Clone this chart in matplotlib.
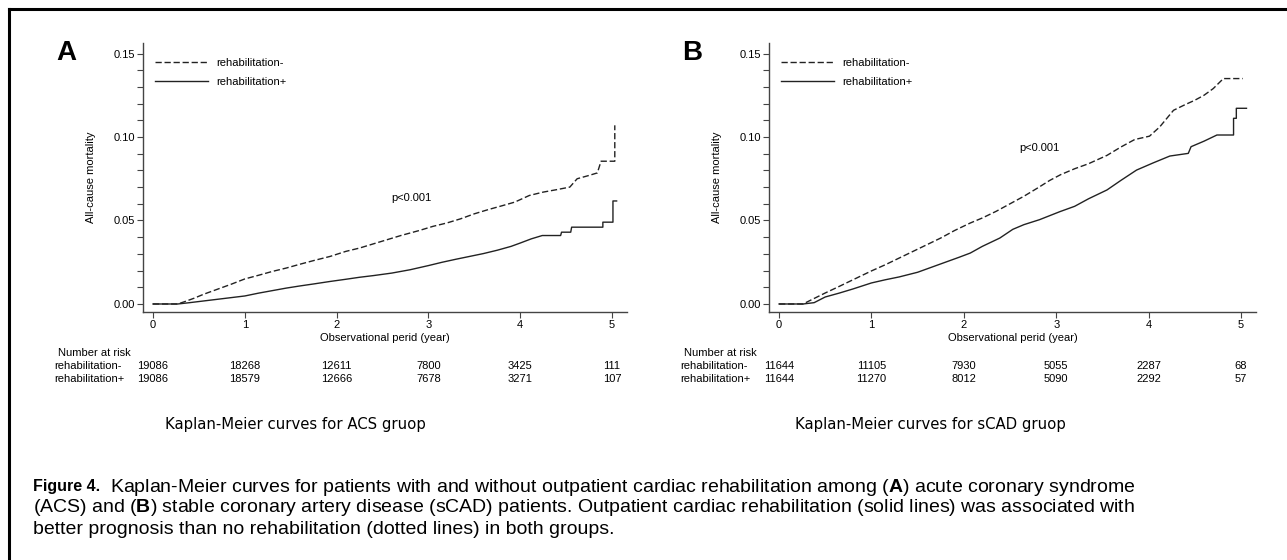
import matplotlib
matplotlib.use("Agg")
import matplotlib.pyplot as plt
from matplotlib.lines import Line2D
from matplotlib import transforms

plt.rcParams['font.family'] = ['Liberation Sans', 'DejaVu Sans']
plt.rcParams['mathtext.fontset'] = 'custom'
plt.rcParams['mathtext.bf'] = 'Liberation Sans:bold'

# ---- data ----
years = [0, 1, 2, 3, 4, 5]

# ACS group (repeated times are the vertical jumps of the KM curve)
acs_minus_t = [0, 0.27, 0.35, 0.45, 0.55, 0.65, 0.75, 0.85, 1.0, 1.15, 1.3, 1.45, 1.6, 1.75, 1.93,
               2.1, 2.25, 2.4, 2.55, 2.7, 2.9, 3.05, 3.2, 3.35, 3.5, 3.65, 3.8, 3.94, 4.1, 4.25,
               4.4, 4.54, 4.62, 4.75, 4.84, 4.88, 5.03, 5.03]
acs_minus_v = [0, 0, 0.0015, 0.0035, 0.0058, 0.0078, 0.0098, 0.0118, 0.0150, 0.0172, 0.0195, 0.0215,
               0.0238, 0.0260, 0.0285, 0.0315, 0.0335, 0.0360, 0.0385, 0.0410, 0.0440, 0.0465, 0.0485,
               0.0510, 0.0540, 0.0565, 0.0588, 0.0610, 0.0650, 0.0670, 0.0685, 0.0700, 0.0750, 0.0770,
               0.0785, 0.0855, 0.0855, 0.1070]
acs_plus_t = [0, 0.27, 0.4, 0.55, 0.7, 0.85, 1.0, 1.15, 1.3, 1.45, 1.6, 1.75, 1.93, 2.1, 2.25, 2.4,
              2.6, 2.8, 3.0, 3.15, 3.3, 3.45, 3.6, 3.75, 3.9, 4.0, 4.12, 4.24, 4.44, 4.45, 4.55, 4.56,
              4.9, 4.9, 5.01, 5.01, 5.05]
acs_plus_v = [0, 0, 0.0008, 0.0018, 0.0028, 0.0038, 0.0048, 0.0065, 0.0080, 0.0095, 0.0108, 0.0120,
              0.0135, 0.0148, 0.0160, 0.0170, 0.0185, 0.0205, 0.0230, 0.0250, 0.0268, 0.0285, 0.0302,
              0.0322, 0.0345, 0.0365, 0.0390, 0.0410, 0.0410, 0.0430, 0.0430, 0.0460, 0.0460, 0.0490,
              0.0490, 0.0617, 0.0617]
acs_risk_minus = [19086, 18268, 12611, 7800, 3425, 111]
acs_risk_plus = [19086, 18579, 12666, 7678, 3271, 107]

# sCAD group
scad_minus_t = [0, 0.26, 0.35, 0.5, 0.65, 0.8, 1.0, 1.15, 1.3, 1.45, 1.6, 1.75, 1.9, 2.07, 2.2, 2.35,
                2.5, 2.65, 2.8, 2.93, 3.05, 3.2, 3.35, 3.55, 3.7, 3.85, 4.01, 4.12, 4.27, 4.4, 4.5,
                4.6, 4.7, 4.81, 5.02]
scad_minus_v = [0, 0, 0.0025, 0.0066, 0.0105, 0.0145, 0.0198, 0.0235, 0.0275, 0.0315, 0.0355, 0.0395,
                0.0440, 0.0485, 0.0515, 0.0555, 0.0600, 0.0645, 0.0695, 0.0740, 0.0775, 0.0810, 0.0840,
                0.0890, 0.0940, 0.0985, 0.1005, 0.1060, 0.1160, 0.1195, 0.1220, 0.1250, 0.1290,
                0.1350, 0.1350]
scad_plus_t = [0, 0.26, 0.38, 0.5, 0.65, 0.8, 1.0, 1.15, 1.3, 1.5, 1.65, 1.8, 1.95, 2.07, 2.2, 2.39,
               2.53, 2.65, 2.82, 3.04, 3.2, 3.35, 3.55, 3.7, 3.87, 4.05, 4.23, 4.43, 4.46, 4.6, 4.74,
               4.92, 4.92, 4.95, 4.95, 5.06]
scad_plus_v = [0, 0, 0.0008, 0.0042, 0.0065, 0.0090, 0.0126, 0.0145, 0.0162, 0.0190, 0.0220, 0.0250,
               0.0280, 0.0305, 0.0345, 0.0395, 0.0447, 0.0475, 0.0505, 0.0553, 0.0585, 0.0630, 0.0683,
               0.0740, 0.0802, 0.0845, 0.0886, 0.0902, 0.0942, 0.0975, 0.1012, 0.1012, 0.1112, 0.1112,
               0.1172, 0.1172]
scad_risk_minus = [11644, 11105, 7930, 5055, 2287, 68]
scad_risk_plus = [11644, 11270, 8012, 5090, 2292, 57]

W, H = 1287, 560
fig = plt.figure(figsize=(W / 100, H / 100), dpi=100)

def px(x, y):
    return x / W, 1 - y / H

DASH = (0, (4.5, 2))
AX_COL = '#444444'
FS = 8

def km_panel(left, right, letter, letter_x, t_minus, v_minus, t_plus, v_plus,
             risk_minus, risk_plus, row_x, p_y, subtitle, sub_x):
    x0, y0 = px(left, 312)
    w = right - left
    ax = fig.add_axes([x0, y0, w / W, (312 - 43) / H])
    ax.plot(t_minus, v_minus, color='#222222', lw=1.0, linestyle=DASH, label='rehabilitation-')
    ax.plot(t_plus, v_plus, color='#222222', lw=1.0, label='rehabilitation+')
    ax.set_xlim(-0.109, 5.163)
    ax.set_ylim(-0.0048, 0.1563)
    ax.set_xticks(years)
    ax.set_yticks([0, 0.05, 0.10, 0.15])
    ax.set_yticks([0.01, 0.02, 0.03, 0.04, 0.06, 0.07, 0.08, 0.09, 0.11, 0.12, 0.13, 0.14], minor=True)
    ax.set_yticklabels(['0.00', '0.05', '0.10', '0.15'])
    for s in ['top', 'right']:
        ax.spines[s].set_visible(False)
    for s in ['left', 'bottom']:
        ax.spines[s].set_color(AX_COL)
        ax.spines[s].set_linewidth(1.0)
    ax.tick_params(which='both', length=4, width=0.8, color=AX_COL, labelsize=FS, pad=2)
    ax.set_ylabel('All-cause mortality', fontsize=FS)
    ax.yaxis.set_label_coords(-47 / w, 0.5)
    ax.set_xlabel('Observational perid (year)', fontsize=FS)
    ax.xaxis.set_label_coords(0.5, -21 / 269)
    ax.legend(loc='upper left', bbox_to_anchor=(12 / w, 0.945),
              frameon=False, fontsize=FS, handlelength=4.8, handletextpad=0.7,
              labelspacing=0.85, borderpad=0, borderaxespad=0)
    ax.text(2.6, p_y, 'p<0.001', fontsize=FS, va='center', ha='left')

    fig.text(*px(letter_x, 53), letter, fontsize=20, fontweight='bold', ha='center', va='center')

    tr = transforms.blended_transform_factory(ax.transData, fig.transFigure)
    fig.text(*px(row_x + 4, 353), 'Number at risk', fontsize=FS, va='center', ha='left')
    fig.text(*px(row_x, 366), 'rehabilitation-', fontsize=FS, va='center', ha='left')
    fig.text(*px(row_x, 379), 'rehabilitation+', fontsize=FS, va='center', ha='left')
    for yr, a, b in zip(years, risk_minus, risk_plus):
        ax.text(yr, 1 - 366 / H, str(a), transform=tr, fontsize=FS, ha='center', va='center')
        ax.text(yr, 1 - 379 / H, str(b), transform=tr, fontsize=FS, ha='center', va='center')

    fig.text(*px(sub_x, 425), subtitle, fontsize=10.7, family='DejaVu Sans',
             ha='center', va='center')
    return ax

km_panel(143, 627, 'A', 66, acs_minus_t, acs_minus_v, acs_plus_t, acs_plus_v,
         acs_risk_minus, acs_risk_plus, 54, 0.0635, 'Kaplan-Meier curves for ACS gruop', 295)
km_panel(769, 1256, 'B', 692, scad_minus_t, scad_minus_v, scad_plus_t, scad_plus_v,
         scad_risk_minus, scad_risk_plus, 680, 0.0934, 'Kaplan-Meier curves for sCAD gruop', 930)

# outer frame (top and left only)
fig.add_artist(Line2D([9 / W, 1], [1 - 9 / H, 1 - 9 / H], transform=fig.transFigure,
                      color='black', lw=2.2))
fig.add_artist(Line2D([9 / W, 9 / W], [0, 1 - 9 / H], transform=fig.transFigure,
                      color='black', lw=2.2))

# figure caption
CAP = 14
fig.text(*px(33, 487), 'Figure 4.', fontsize=11.5, fontweight='bold', ha='left', va='center')
fig.text(*px(110, 487),
         r'Kaplan-Meier curves for patients with and without outpatient cardiac rehabilitation among ($\mathbf{A}$) acute coronary syndrome',
         fontsize=CAP, ha='left', va='center')
fig.text(*px(33, 508),
         r'(ACS) and ($\mathbf{B}$) stable coronary artery disease (sCAD) patients. Outpatient cardiac rehabilitation (solid lines) was associated with',
         fontsize=CAP, ha='left', va='center')
fig.text(*px(33, 529),
         'better prognosis than no rehabilitation (dotted lines) in both groups.',
         fontsize=CAP, ha='left', va='center')

fig.savefig('out.png', dpi=100)
